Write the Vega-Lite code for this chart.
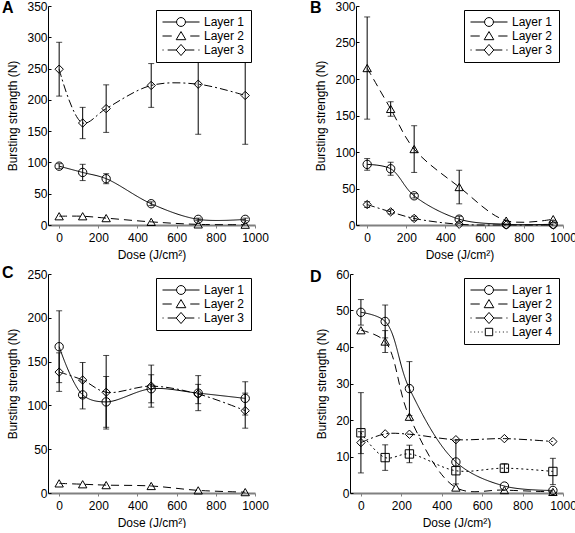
{
  "$schema": "https://vega.github.io/schema/vega-lite/v6.json",
  "padding": {"left": 2, "top": 0, "right": 0, "bottom": 0},
  "background": "white",
  "datasets": {
    "d": [
      {"panel": "A", "layer": "Layer 1", "dose": 0, "mean": 94, "err": 4},
      {"panel": "A", "layer": "Layer 1", "dose": 120, "mean": 84, "err": 13},
      {"panel": "A", "layer": "Layer 1", "dose": 240, "mean": 74, "err": 8},
      {"panel": "A", "layer": "Layer 1", "dose": 470, "mean": 34, "err": 3},
      {"panel": "A", "layer": "Layer 1", "dose": 710, "mean": 9, "err": 2},
      {"panel": "A", "layer": "Layer 1", "dose": 950, "mean": 9, "err": 2},
      {"panel": "A", "layer": "Layer 2", "dose": 0, "mean": 14, "err": 0},
      {"panel": "A", "layer": "Layer 2", "dose": 120, "mean": 14, "err": 0},
      {"panel": "A", "layer": "Layer 2", "dose": 240, "mean": 11, "err": 0},
      {"panel": "A", "layer": "Layer 2", "dose": 470, "mean": 5, "err": 0},
      {"panel": "A", "layer": "Layer 2", "dose": 710, "mean": 1, "err": 0},
      {"panel": "A", "layer": "Layer 2", "dose": 950, "mean": 0.5, "err": 0},
      {"panel": "A", "layer": "Layer 3", "dose": 0, "mean": 249, "err": 43},
      {"panel": "A", "layer": "Layer 3", "dose": 120, "mean": 163, "err": 25},
      {"panel": "A", "layer": "Layer 3", "dose": 240, "mean": 186, "err": 38},
      {"panel": "A", "layer": "Layer 3", "dose": 470, "mean": 223, "err": 35},
      {"panel": "A", "layer": "Layer 3", "dose": 710, "mean": 225, "err": 80},
      {"panel": "A", "layer": "Layer 3", "dose": 950, "mean": 207, "err": 78},

      {"panel": "B", "layer": "Layer 1", "dose": 0, "mean": 83, "err": 8},
      {"panel": "B", "layer": "Layer 1", "dose": 120, "mean": 77, "err": 9},
      {"panel": "B", "layer": "Layer 1", "dose": 240, "mean": 40, "err": 3},
      {"panel": "B", "layer": "Layer 1", "dose": 470, "mean": 8, "err": 4},
      {"panel": "B", "layer": "Layer 1", "dose": 710, "mean": 1, "err": 0},
      {"panel": "B", "layer": "Layer 1", "dose": 950, "mean": 1, "err": 0},
      {"panel": "B", "layer": "Layer 2", "dose": 0, "mean": 215, "err": 70},
      {"panel": "B", "layer": "Layer 2", "dose": 120, "mean": 159, "err": 10},
      {"panel": "B", "layer": "Layer 2", "dose": 240, "mean": 104, "err": 32},
      {"panel": "B", "layer": "Layer 2", "dose": 470, "mean": 52, "err": 23},
      {"panel": "B", "layer": "Layer 2", "dose": 710, "mean": 6, "err": 0},
      {"panel": "B", "layer": "Layer 2", "dose": 950, "mean": 8, "err": 0},
      {"panel": "B", "layer": "Layer 3", "dose": 0, "mean": 28, "err": 4},
      {"panel": "B", "layer": "Layer 3", "dose": 120, "mean": 18, "err": 3},
      {"panel": "B", "layer": "Layer 3", "dose": 240, "mean": 9, "err": 3},
      {"panel": "B", "layer": "Layer 3", "dose": 470, "mean": 1, "err": 0},
      {"panel": "B", "layer": "Layer 3", "dose": 710, "mean": 0, "err": 0},
      {"panel": "B", "layer": "Layer 3", "dose": 950, "mean": 0, "err": 0},

      {"panel": "C", "layer": "Layer 1", "dose": 0, "mean": 167, "err": 41},
      {"panel": "C", "layer": "Layer 1", "dose": 120, "mean": 112, "err": 16},
      {"panel": "C", "layer": "Layer 1", "dose": 240, "mean": 104, "err": 29},
      {"panel": "C", "layer": "Layer 1", "dose": 470, "mean": 119, "err": 16},
      {"panel": "C", "layer": "Layer 1", "dose": 710, "mean": 114, "err": 20},
      {"panel": "C", "layer": "Layer 1", "dose": 950, "mean": 108, "err": 19},
      {"panel": "C", "layer": "Layer 2", "dose": 0, "mean": 11, "err": 0},
      {"panel": "C", "layer": "Layer 2", "dose": 120, "mean": 10, "err": 0},
      {"panel": "C", "layer": "Layer 2", "dose": 240, "mean": 9, "err": 0},
      {"panel": "C", "layer": "Layer 2", "dose": 470, "mean": 8, "err": 0},
      {"panel": "C", "layer": "Layer 2", "dose": 710, "mean": 3, "err": 0},
      {"panel": "C", "layer": "Layer 2", "dose": 950, "mean": 1, "err": 0},
      {"panel": "C", "layer": "Layer 3", "dose": 0, "mean": 138, "err": 22},
      {"panel": "C", "layer": "Layer 3", "dose": 120, "mean": 129, "err": 20},
      {"panel": "C", "layer": "Layer 3", "dose": 240, "mean": 115, "err": 42},
      {"panel": "C", "layer": "Layer 3", "dose": 470, "mean": 122, "err": 24},
      {"panel": "C", "layer": "Layer 3", "dose": 710, "mean": 113, "err": 11},
      {"panel": "C", "layer": "Layer 3", "dose": 950, "mean": 94, "err": 20},

      {"panel": "D", "layer": "Layer 1", "dose": 0, "mean": 49.5, "err": 3.5},
      {"panel": "D", "layer": "Layer 1", "dose": 120, "mean": 47, "err": 4.5},
      {"panel": "D", "layer": "Layer 1", "dose": 240, "mean": 28.6, "err": 7.4},
      {"panel": "D", "layer": "Layer 1", "dose": 470, "mean": 8.5, "err": 6},
      {"panel": "D", "layer": "Layer 1", "dose": 710, "mean": 1.9, "err": 0},
      {"panel": "D", "layer": "Layer 1", "dose": 950, "mean": 0.7, "err": 0},
      {"panel": "D", "layer": "Layer 2", "dose": 0, "mean": 44.6, "err": 0},
      {"panel": "D", "layer": "Layer 2", "dose": 120, "mean": 41.5, "err": 3},
      {"panel": "D", "layer": "Layer 2", "dose": 240, "mean": 20.9, "err": 0},
      {"panel": "D", "layer": "Layer 2", "dose": 470, "mean": 1.5, "err": 0},
      {"panel": "D", "layer": "Layer 2", "dose": 710, "mean": 0.8, "err": 0},
      {"panel": "D", "layer": "Layer 2", "dose": 950, "mean": 0.3, "err": 0},
      {"panel": "D", "layer": "Layer 3", "dose": 0, "mean": 13.8, "err": 3},
      {"panel": "D", "layer": "Layer 3", "dose": 120, "mean": 16.2, "err": 0},
      {"panel": "D", "layer": "Layer 3", "dose": 240, "mean": 16.1, "err": 0},
      {"panel": "D", "layer": "Layer 3", "dose": 470, "mean": 14.6, "err": 0},
      {"panel": "D", "layer": "Layer 3", "dose": 710, "mean": 14.9, "err": 0},
      {"panel": "D", "layer": "Layer 3", "dose": 950, "mean": 14.1, "err": 0},
      {"panel": "D", "layer": "Layer 4", "dose": 0, "mean": 16.5, "err": 11},
      {"panel": "D", "layer": "Layer 4", "dose": 120, "mean": 9.7, "err": 3.5},
      {"panel": "D", "layer": "Layer 4", "dose": 240, "mean": 10.7, "err": 2.4},
      {"panel": "D", "layer": "Layer 4", "dose": 470, "mean": 6.1, "err": 0},
      {"panel": "D", "layer": "Layer 4", "dose": 710, "mean": 6.8, "err": 1.2},
      {"panel": "D", "layer": "Layer 4", "dose": 950, "mean": 5.9, "err": 3.6}
    ]
  },
  "config": {
    "view": {"stroke": null},
    "font": "Liberation Sans",
    "axis": {
      "grid": false,
      "labelFont": "Liberation Sans",
      "labelFontSize": 12,
      "labelColor": "black",
      "titleFont": "Liberation Sans",
      "titleFontSize": 12,
      "titleFontWeight": "normal",
      "titleColor": "black",
      "domainColor": "black",
      "tickColor": "black",
      "labelFlush": false,
      "labelOverlap": false,
      "labelBound": false,
      "format": "d"
    },
    "axisY": {"tickSize": -3, "labelPadding": 4, "titlePadding": 7},
    "axisX": {"domainColor": "#808080", "domainWidth": 2, "tickSize": 3, "tickColor": "#808080", "labelPadding": 4, "titlePadding": 6},
    "legend": {
      "orient": "top-right",
      "offset": 4,
      "padding": 6,
      "fillColor": "white",
      "strokeColor": "black",
      "cornerRadius": 0,
      "labelFont": "Liberation Sans",
      "labelFontSize": 12,
      "labelColor": "black",
      "labelOffset": 4,
      "rowPadding": 2,
      "clipHeight": 12,
      "symbolSize": 1369,
      "symbolStrokeWidth": 1,
      "symbolFillColor": "white",
      "symbolStrokeColor": "black",
      "symbolOpacity": 1
    },
    "title": {"font": "Liberation Sans", "fontSize": 16, "fontWeight": "bold", "anchor": "start", "frame": "group", "color": "black", "baseline": "alphabetic"}
  },
  "spacing": 5,
  "resolve": {"scale": {"shape": "independent", "strokeDash": "independent"}, "legend": {"shape": "independent"}},
  "vconcat": [
    {
      "spacing": 41,
      "resolve": {"scale": {"shape": "independent", "strokeDash": "independent"}, "legend": {"shape": "independent"}},
      "hconcat": [
        {
          "width": 207, "height": 219,
          "title": {"text": "A", "dx": -46, "offset": -16},
          "data": {"name": "d"},
          "transform": [{"filter": "datum.panel == 'A'"}],
          "encoding": {
            "x": {"field": "dose", "type": "quantitative", "scale": {"domain": [-57, 1000], "nice": false, "zero": false}, "axis": {"values": [0, 200, 400, 600, 800, 1000], "title": "Dose (J/cm²)"}},
            "y": {"field": "mean", "type": "quantitative", "scale": {"domain": [0, 350], "nice": false}, "axis": {"values": [0, 50, 100, 150, 200, 250, 300, 350], "title": "Bursting strength (N)"}}
          },
          "resolve": {"scale": {"shape": "independent"}},
          "layer": [
            {"transform": [{"filter": "datum.err > 0"}], "mark": {"type": "errorbar", "color": "black", "thickness": 1, "ticks": {"size": 6, "color": "black"}}, "encoding": {"yError": {"field": "err"}}},
            {"mark": {"type": "line", "interpolate": "catmull-rom", "color": "black", "strokeWidth": 1}, "encoding": {"strokeDash": {"field": "layer", "type": "nominal", "scale": {"range": [[1, 0], [8, 5], [8, 3, 2, 3], [2, 3]]}, "legend": null}}},
            {"mark": {"type": "point", "filled": false, "color": "black", "opacity": 1, "strokeWidth": 1, "size": 70},
             "encoding": {"shape": {"field": "layer", "type": "nominal", "scale": {"range": ["circle", "triangle-up", "diamond", "square"]}, "legend": null}}},
            {"mark": {"type": "point", "filled": false, "color": "black", "opacity": 0, "strokeWidth": 1, "size": 1},
             "encoding": {"shape": {"field": "layer", "type": "nominal", "scale": {"range": ["M-1,0L-0.24,0M0.24,0L1,0M0.24,0A0.24,0.24,0,1,1,-0.24,0A0.24,0.24,0,1,1,0.24,0", "M-1,0L-0.5,0M0.5,0L1,0M0,-0.24L0.26,0.2L-0.26,0.2Z", "M-1,0L-0.94,0M-0.72,0L-0.26,0M0.26,0L0.72,0M0.94,0L1,0M0,-0.3L0.26,0L0,0.3L-0.26,0Z", "M-1,0L-0.95,0M-0.8,0L-0.75,0M-0.6,0L-0.55,0M-0.4,0L-0.35,0M0.35,0L0.4,0M0.55,0L0.6,0M0.75,0L0.8,0M0.95,0L1,0M-0.2,-0.2L0.2,-0.2L0.2,0.2L-0.2,0.2Z"]},
               "legend": {"title": null, "encode": {"symbols": {"update": {"size": {"value": 1369}, "fill": {"value": "white"}, "stroke": {"value": "black"}, "opacity": {"value": 1}, "strokeOpacity": {"value": 1}}}}}}}}
          ]
        },
        {
          "width": 207, "height": 219,
          "title": {"text": "B", "dx": -46, "offset": -16},
          "data": {"name": "d"},
          "transform": [{"filter": "datum.panel == 'B'"}],
          "encoding": {
            "x": {"field": "dose", "type": "quantitative", "scale": {"domain": [-57, 1000], "nice": false, "zero": false}, "axis": {"values": [0, 200, 400, 600, 800, 1000], "title": "Dose (J/cm²)"}},
            "y": {"field": "mean", "type": "quantitative", "scale": {"domain": [0, 300], "nice": false}, "axis": {"values": [0, 50, 100, 150, 200, 250, 300], "title": "Bursting strength (N)"}}
          },
          "resolve": {"scale": {"shape": "independent"}},
          "layer": [
            {"transform": [{"filter": "datum.err > 0"}], "mark": {"type": "errorbar", "color": "black", "thickness": 1, "ticks": {"size": 6, "color": "black"}}, "encoding": {"yError": {"field": "err"}}},
            {"mark": {"type": "line", "interpolate": "catmull-rom", "color": "black", "strokeWidth": 1}, "encoding": {"strokeDash": {"field": "layer", "type": "nominal", "scale": {"range": [[1, 0], [8, 5], [8, 3, 2, 3], [2, 3]]}, "legend": null}}},
            {"mark": {"type": "point", "filled": false, "color": "black", "opacity": 1, "strokeWidth": 1, "size": 70},
             "encoding": {"shape": {"field": "layer", "type": "nominal", "scale": {"range": ["circle", "triangle-up", "diamond", "square"]}, "legend": null}}},
            {"mark": {"type": "point", "filled": false, "color": "black", "opacity": 0, "strokeWidth": 1, "size": 1},
             "encoding": {"shape": {"field": "layer", "type": "nominal", "scale": {"range": ["M-1,0L-0.24,0M0.24,0L1,0M0.24,0A0.24,0.24,0,1,1,-0.24,0A0.24,0.24,0,1,1,0.24,0", "M-1,0L-0.5,0M0.5,0L1,0M0,-0.24L0.26,0.2L-0.26,0.2Z", "M-1,0L-0.94,0M-0.72,0L-0.26,0M0.26,0L0.72,0M0.94,0L1,0M0,-0.3L0.26,0L0,0.3L-0.26,0Z", "M-1,0L-0.95,0M-0.8,0L-0.75,0M-0.6,0L-0.55,0M-0.4,0L-0.35,0M0.35,0L0.4,0M0.55,0L0.6,0M0.75,0L0.8,0M0.95,0L1,0M-0.2,-0.2L0.2,-0.2L0.2,0.2L-0.2,0.2Z"]},
               "legend": {"title": null, "encode": {"symbols": {"update": {"size": {"value": 1369}, "fill": {"value": "white"}, "stroke": {"value": "black"}, "opacity": {"value": 1}, "strokeOpacity": {"value": 1}}}}}}}}
          ]
        }
      ]
    },
    {
      "spacing": 41,
      "resolve": {"scale": {"shape": "independent", "strokeDash": "independent"}, "legend": {"shape": "independent"}},
      "hconcat": [
        {
          "width": 207, "height": 219,
          "title": {"text": "C", "dx": -46, "offset": -13},
          "data": {"name": "d"},
          "transform": [{"filter": "datum.panel == 'C'"}],
          "encoding": {
            "x": {"field": "dose", "type": "quantitative", "scale": {"domain": [-57, 1000], "nice": false, "zero": false}, "axis": {"values": [0, 200, 400, 600, 800, 1000], "title": "Dose (J/cm²)"}},
            "y": {"field": "mean", "type": "quantitative", "scale": {"domain": [0, 250], "nice": false}, "axis": {"values": [0, 50, 100, 150, 200, 250], "title": "Bursting strength (N)"}}
          },
          "resolve": {"scale": {"shape": "independent"}},
          "layer": [
            {"transform": [{"filter": "datum.err > 0"}], "mark": {"type": "errorbar", "color": "black", "thickness": 1, "ticks": {"size": 6, "color": "black"}}, "encoding": {"yError": {"field": "err"}}},
            {"mark": {"type": "line", "interpolate": "catmull-rom", "color": "black", "strokeWidth": 1}, "encoding": {"strokeDash": {"field": "layer", "type": "nominal", "scale": {"range": [[1, 0], [8, 5], [8, 3, 2, 3], [2, 3]]}, "legend": null}}},
            {"mark": {"type": "point", "filled": false, "color": "black", "opacity": 1, "strokeWidth": 1, "size": 70},
             "encoding": {"shape": {"field": "layer", "type": "nominal", "scale": {"range": ["circle", "triangle-up", "diamond", "square"]}, "legend": null}}},
            {"mark": {"type": "point", "filled": false, "color": "black", "opacity": 0, "strokeWidth": 1, "size": 1},
             "encoding": {"shape": {"field": "layer", "type": "nominal", "scale": {"range": ["M-1,0L-0.24,0M0.24,0L1,0M0.24,0A0.24,0.24,0,1,1,-0.24,0A0.24,0.24,0,1,1,0.24,0", "M-1,0L-0.5,0M0.5,0L1,0M0,-0.24L0.26,0.2L-0.26,0.2Z", "M-1,0L-0.94,0M-0.72,0L-0.26,0M0.26,0L0.72,0M0.94,0L1,0M0,-0.3L0.26,0L0,0.3L-0.26,0Z", "M-1,0L-0.95,0M-0.8,0L-0.75,0M-0.6,0L-0.55,0M-0.4,0L-0.35,0M0.35,0L0.4,0M0.55,0L0.6,0M0.75,0L0.8,0M0.95,0L1,0M-0.2,-0.2L0.2,-0.2L0.2,0.2L-0.2,0.2Z"]},
               "legend": {"title": null, "encode": {"symbols": {"update": {"size": {"value": 1369}, "fill": {"value": "white"}, "stroke": {"value": "black"}, "opacity": {"value": 1}, "strokeOpacity": {"value": 1}}}}}}}}
          ]
        },
        {
          "width": 213, "height": 219,
          "title": {"text": "D", "dx": -40, "offset": -17},
          "data": {"name": "d"},
          "transform": [{"filter": "datum.panel == 'D'"}],
          "encoding": {
            "x": {"field": "dose", "type": "quantitative", "scale": {"domain": [-54, 1000], "nice": false, "zero": false}, "axis": {"values": [0, 200, 400, 600, 800, 1000], "title": "Dose (J/cm²)"}},
            "y": {"field": "mean", "type": "quantitative", "scale": {"domain": [0, 60], "nice": false}, "axis": {"values": [0, 10, 20, 30, 40, 50, 60], "title": "Bursting strength (N)"}}
          },
          "resolve": {"scale": {"shape": "independent"}},
          "layer": [
            {"transform": [{"filter": "datum.err > 0"}], "mark": {"type": "errorbar", "color": "black", "thickness": 1, "ticks": {"size": 6, "color": "black"}}, "encoding": {"yError": {"field": "err"}}},
            {"mark": {"type": "line", "interpolate": "catmull-rom", "color": "black", "strokeWidth": 1}, "encoding": {"strokeDash": {"field": "layer", "type": "nominal", "scale": {"range": [[1, 0], [8, 5], [8, 3, 2, 3], [2, 3]]}, "legend": null}}},
            {"mark": {"type": "point", "filled": false, "color": "black", "opacity": 1, "strokeWidth": 1, "size": 70},
             "encoding": {"shape": {"field": "layer", "type": "nominal", "scale": {"range": ["circle", "triangle-up", "diamond", "square"]}, "legend": null}}},
            {"mark": {"type": "point", "filled": false, "color": "black", "opacity": 0, "strokeWidth": 1, "size": 1},
             "encoding": {"shape": {"field": "layer", "type": "nominal", "scale": {"range": ["M-1,0L-0.24,0M0.24,0L1,0M0.24,0A0.24,0.24,0,1,1,-0.24,0A0.24,0.24,0,1,1,0.24,0", "M-1,0L-0.5,0M0.5,0L1,0M0,-0.24L0.26,0.2L-0.26,0.2Z", "M-1,0L-0.94,0M-0.72,0L-0.26,0M0.26,0L0.72,0M0.94,0L1,0M0,-0.3L0.26,0L0,0.3L-0.26,0Z", "M-1,0L-0.95,0M-0.8,0L-0.75,0M-0.6,0L-0.55,0M-0.4,0L-0.35,0M0.35,0L0.4,0M0.55,0L0.6,0M0.75,0L0.8,0M0.95,0L1,0M-0.2,-0.2L0.2,-0.2L0.2,0.2L-0.2,0.2Z"]},
               "legend": {"title": null, "encode": {"symbols": {"update": {"size": {"value": 1369}, "fill": {"value": "white"}, "stroke": {"value": "black"}, "opacity": {"value": 1}, "strokeOpacity": {"value": 1}}}}}}}}
          ]
        }
      ]
    }
  ]
}
